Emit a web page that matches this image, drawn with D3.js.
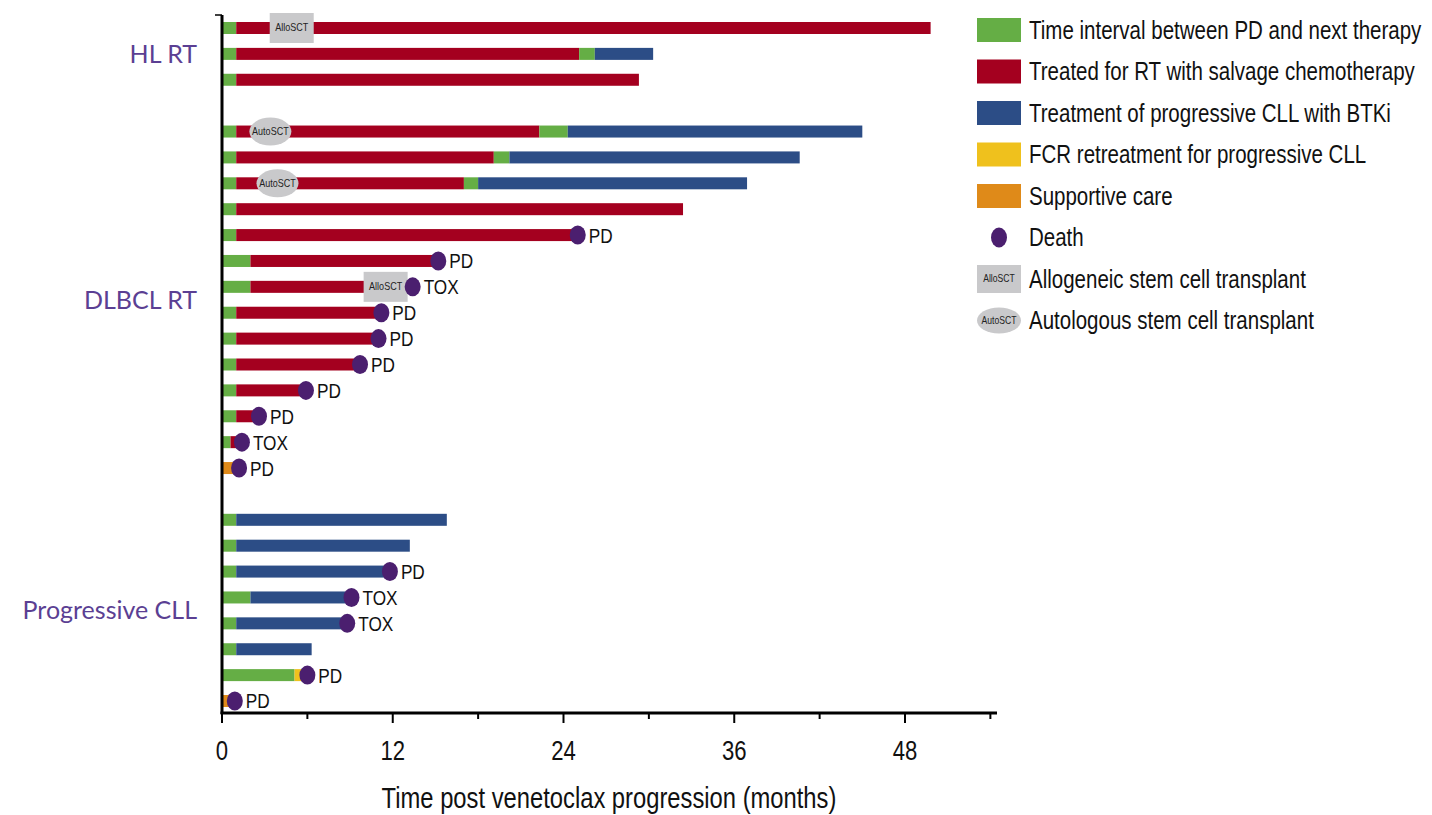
<!DOCTYPE html>
<html>
<head>
<meta charset="utf-8">
<script src="https://cdn.jsdelivr.net/npm/d3@7/dist/d3.min.js"></script>
<style>
  html, body { margin: 0; padding: 0; background: #fff; }
  svg { display: block; }
  .narrow { font-family: "Liberation Sans", Arial, Helvetica, sans-serif; }
</style>
</head>
<body>
<svg id="chart" width="1432" height="815"></svg>
<script>
// ---------- DATA ----------
const groupNames = ["HL RT", "DLBCL RT", "Progressive CLL"];
const groupRowRange = [[0, 2], [4, 17], [19, 26]];   // row slots occupied by each group

// segment categories
const categoryKeys = ["gap", "chemo", "btki", "fcr", "support"];
const categoryLabels = [
  "Time interval between PD and next therapy",
  "Treated for RT with salvage chemotherapy",
  "Treatment of progressive CLL with BTKi",
  "FCR retreatment for progressive CLL",
  "Supportive care"
];

// per row: [category, startMonth, endMonth]
const rowSlots = [0,1,2, 4,5,6,7,8,9,10,11,12,13,14,15,16,17, 19,20,21,22,23,24,25,26];
const rowSegments = [
  [["gap",0,1],["chemo",1,49.8]],
  [["gap",0,1],["chemo",1,25.1],["gap",25.1,26.2],["btki",26.2,30.3]],
  [["gap",0,1],["chemo",1,29.3]],
  [["gap",0,1],["chemo",1,22.3],["gap",22.3,24.3],["btki",24.3,45.0]],
  [["gap",0,1],["chemo",1,19.1],["gap",19.1,20.2],["btki",20.2,40.6]],
  [["gap",0,1],["chemo",1,17.0],["gap",17.0,18.0],["btki",18.0,36.9]],
  [["gap",0,1],["chemo",1,32.4]],
  [["gap",0,1],["chemo",1,25.0]],
  [["gap",0,2.0],["chemo",2.0,15.2]],
  [["gap",0,2.0],["chemo",2.0,13.4]],
  [["gap",0,1],["chemo",1,11.2]],
  [["gap",0,1],["chemo",1,11.0]],
  [["gap",0,1],["chemo",1,9.7]],
  [["gap",0,1],["chemo",1,5.9]],
  [["gap",0,1],["chemo",1,2.6]],
  [["gap",0,0.6],["chemo",0.6,1.4]],
  [["support",0,1.2]],
  [["gap",0,1],["btki",1,15.8]],
  [["gap",0,1],["btki",1,13.2]],
  [["gap",0,1],["btki",1,11.8]],
  [["gap",0,2.0],["btki",2.0,9.1]],
  [["gap",0,1],["btki",1,8.8]],
  [["gap",0,1],["btki",1,6.3]],
  [["gap",0,5.1],["fcr",5.1,6.0]],
  [["support",0,0.9]]
];

// deaths
const deathSlot  = [8, 9, 10, 11, 12, 13, 14, 15, 16, 17, 21, 22, 23, 25, 26];
const deathMonth = [25.0, 15.2, 13.4, 11.2, 11.0, 9.7, 5.9, 2.6, 1.4, 1.2, 11.8, 9.1, 8.8, 6.0, 0.9];
const deathCause = ["PD","PD","TOX","PD","PD","PD","PD","PD","TOX","PD","PD","TOX","TOX","PD","PD"];

// transplants
const alloSlot = [0, 10];
const alloMonth = [4.9, 11.5];
const autoSlot = [4, 6];
const autoMonth = [3.4, 3.9];

// axis
const xTicksMajor = [0, 12, 24, 36, 48];
const xTicksMinor = [6, 18, 30, 42, 54];
const xTitle = "Time post venetoclax progression (months)";
const legendDeath = "Death";
const legendAllo = "Allogeneic stem cell transplant";
const legendAuto = "Autologous stem cell transplant";

// ---------- STYLE ----------
const colors = {
  gap: "#65ae45",
  chemo: "#a4001f",
  btki: "#2c4d86",
  fcr: "#efc11d",
  support: "#df8a19"
};
const deathColor = "#4b1f6f";
const transplantColor = "#c9c9cb";
const groupColor = "#5b3f93";
const NARROW = 0.82;

const svg = d3.select("#chart");
const x = d3.scaleLinear().domain([0, 48]).range([222, 905]);
const y = d3.scaleLinear().domain([0, 26]).range([28, 701]);
const barH = 12;

// condensed text helper (horizontal squeeze around the anchor x)
function ntext(parent, tx, ty, size, str, anchor, fill) {
  return parent.append("text").attr("class", "narrow")
    .attr("x", tx).attr("y", ty)
    .attr("text-anchor", anchor || "start")
    .attr("font-size", size).attr("fill", fill || "#111")
    .attr("transform", `translate(${tx},0) scale(${NARROW},1) translate(${-tx},0)`)
    .text(str);
}

// bars
const rowsG = svg.append("g");
rowSegments.forEach((segs, i) => {
  const slot = rowSlots[i];
  rowsG.selectAll(null).data(segs).enter().append("rect")
    .attr("x", d => x(d[1]))
    .attr("y", y(slot) - barH / 2)
    .attr("width", d => x(d[2]) - x(d[1]))
    .attr("height", barH)
    .attr("fill", d => colors[d[0]]);
});

// allo boxes
const alloG = svg.append("g");
alloSlot.forEach((s, i) => {
  const cx = x(alloMonth[i]), cy = y(s);
  alloG.append("rect").attr("x", cx - 22).attr("y", cy - 15).attr("width", 44).attr("height", 30)
    .attr("fill", transplantColor);
  ntext(alloG, cx, cy + 3.5, 11, "AlloSCT", "middle", "#222");
});
// auto ellipses
autoSlot.forEach((s, i) => {
  const cx = x(autoMonth[i]), cy = y(s);
  alloG.append("ellipse").attr("cx", cx).attr("cy", cy).attr("rx", 21).attr("ry", 14)
    .attr("fill", transplantColor);
  ntext(alloG, cx, cy + 3.5, 11, "AutoSCT", "middle", "#222");
});

// deaths
const deathG = svg.append("g");
deathSlot.forEach((s, i) => {
  const cx = x(deathMonth[i]), cy = y(s);
  deathG.append("ellipse").attr("cx", cx).attr("cy", cy).attr("rx", 8).attr("ry", 9.5)
    .attr("fill", deathColor);
  ntext(deathG, cx + 11, cy + 7.5, 21, deathCause[i]);
});

// axes
const axisG = svg.append("g");
axisG.append("line").attr("x1", 222).attr("x2", 222).attr("y1", 15).attr("y2", 714)
  .attr("stroke", "#000").attr("stroke-width", 3);
axisG.append("line").attr("x1", 215).attr("x2", 222).attr("y1", 15).attr("y2", 15)
  .attr("stroke", "#000").attr("stroke-width", 1.5);
axisG.append("line").attr("x1", 220.5).attr("x2", 997).attr("y1", 713).attr("y2", 713)
  .attr("stroke", "#000").attr("stroke-width", 3);
axisG.selectAll(".maj").data(xTicksMajor).enter().append("line")
  .attr("x1", d => x(d)).attr("x2", d => x(d)).attr("y1", 713).attr("y2", 723)
  .attr("stroke", "#000").attr("stroke-width", 2);
axisG.selectAll(".min").data(xTicksMinor).enter().append("line")
  .attr("x1", d => x(d)).attr("x2", d => x(d)).attr("y1", 713).attr("y2", 719)
  .attr("stroke", "#000").attr("stroke-width", 2);
xTicksMajor.forEach(t => ntext(axisG, x(t), 760, 27, String(t), "middle"));
ntext(axisG, 609, 808, 29, xTitle, "middle");

// group labels
groupNames.forEach((g, i) => {
  const mid = (groupRowRange[i][0] + groupRowRange[i][1]) / 2;
  svg.append("text").attr("x", 197).attr("y", y(mid) + 9)
    .attr("text-anchor", "end").attr("font-family", "Lato, 'Open Sans', sans-serif")
    .attr("font-size", 25).attr("fill", groupColor).text(g);
});

// legend
const legG = svg.append("g");
const legY = i => 30 + i * 41.5;
categoryKeys.forEach((k, i) => {
  legG.append("rect").attr("x", 977).attr("y", legY(i) - 12).attr("width", 44).attr("height", 24)
    .attr("fill", colors[k]);
  ntext(legG, 1029, legY(i) + 9, 25, categoryLabels[i]);
});
legG.append("ellipse").attr("cx", 999).attr("cy", legY(5)).attr("rx", 8).attr("ry", 10).attr("fill", deathColor);
ntext(legG, 1029, legY(5) + 9, 25, legendDeath);
legG.append("rect").attr("x", 977).attr("y", legY(6) - 14).attr("width", 44).attr("height", 28).attr("fill", transplantColor);
ntext(legG, 999, legY(6) + 3.5, 10.5, "AlloSCT", "middle", "#222");
ntext(legG, 1029, legY(6) + 9, 25, legendAllo);
legG.append("ellipse").attr("cx", 999).attr("cy", legY(7)).attr("rx", 22).attr("ry", 13).attr("fill", transplantColor);
ntext(legG, 999, legY(7) + 3.5, 10.5, "AutoSCT", "middle", "#222");
ntext(legG, 1029, legY(7) + 9, 25, legendAuto);
</script>
</body>
</html>
